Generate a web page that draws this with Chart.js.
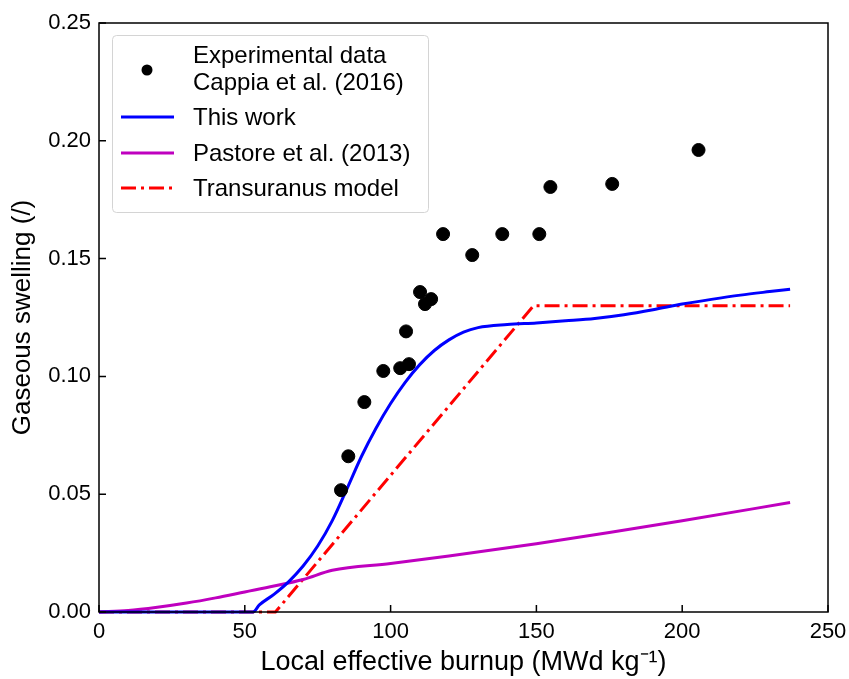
<!DOCTYPE html>
<html>
<head>
<meta charset="utf-8">
<script src="https://cdn.jsdelivr.net/npm/chart.js@4.4.1/dist/chart.umd.min.js"></script>
<style>
  html, body { margin: 0; padding: 0; background: #fff; }
  #wrap { width: 849px; height: 679px; }
</style>
</head>
<body>
<div id="wrap"><canvas id="swellChart"></canvas></div>
<script>
// ---- experimental data (Cappia et al. 2016) ----
const expX = [83.0, 85.5, 91.0, 97.5, 103.3, 105.3, 106.3, 110.1, 111.8, 113.9, 118.0, 128.0, 138.3, 151.0, 154.8, 176.0, 205.6];
const expY = [0.0517, 0.0661, 0.0891, 0.1023, 0.1035, 0.1191, 0.1052, 0.1358, 0.1307, 0.1328, 0.1604, 0.1515, 0.1604, 0.1604, 0.1804, 0.1817, 0.1961];

// ---- This work ----
const workX = [0, 52.8, 55, 60, 65, 70, 75, 80, 85, 90, 95, 100, 105, 110, 115, 120, 125, 130, 140, 150, 160, 170, 180, 190, 200, 210, 220, 230, 237];
const workY = [0, 0, 0.003, 0.0075, 0.0128, 0.0195, 0.028, 0.0388, 0.0522, 0.066, 0.078, 0.0885, 0.0975, 0.105, 0.111, 0.1155, 0.1188, 0.1207, 0.122, 0.1227, 0.1236, 0.1246, 0.1262, 0.1283, 0.1307, 0.1327, 0.1345, 0.136, 0.137];

// ---- Pastore et al. (2013) ----
const pastX = [0, 10, 20, 30, 40, 50, 60, 70, 80, 100, 120, 150, 175, 200, 237];
const pastY = [0, 0.0006, 0.002, 0.0038, 0.006, 0.0085, 0.011, 0.0138, 0.0177, 0.0206, 0.0238, 0.029, 0.0337, 0.0387, 0.0465];

// ---- Transuranus model ----
const tuX = [0, 60.5, 149, 237];
const tuY = [0, 0, 0.13, 0.13];

// axis ticks
const xTicks = [0, 50, 100, 150, 200, 250];
const yTicks = [0, 0.05, 0.10, 0.15, 0.20, 0.25];

const FONT = "'Liberation Sans', Arial, Helvetica, sans-serif";

function pts(xs, ys) {
  return xs.map((x, i) => ({ x: x, y: ys[i] }));
}

// ==============================
// frame + inward ticks (matplotlib look)
// ==============================
const framePlugin = {
  id: "frame",
  afterDatasetsDraw(chart) {
    const { ctx, chartArea: a, scales } = chart;
    ctx.save();
    ctx.strokeStyle = "#000";
    ctx.lineWidth = 1.5;
    ctx.strokeRect(a.left, a.top, a.right - a.left, a.bottom - a.top);
    ctx.beginPath();
    xTicks.forEach((v) => {
      const px = scales.x.getPixelForValue(v);
      ctx.moveTo(px, a.bottom);
      ctx.lineTo(px, a.bottom - 7);
    });
    yTicks.forEach((v) => {
      const py = scales.y.getPixelForValue(v);
      ctx.moveTo(a.left, py);
      ctx.lineTo(a.left + 7, py);
    });
    ctx.stroke();
    ctx.restore();
  },
};

// ==============================
// legend (two-line first entry)
// ==============================
const legendPlugin = {
  id: "boxLegend",
  afterDraw(chart) {
    const { ctx, chartArea: a } = chart;
    const ds = chart.data.datasets;
    const bx = a.left + 13, by = a.top + 12, bw = 316, bh = 177;
    ctx.save();
    ctx.beginPath();
    ctx.roundRect(bx + 0.5, by + 0.5, bw, bh, 4);
    ctx.fillStyle = "rgba(255,255,255,0.8)";
    ctx.fill();
    ctx.strokeStyle = "#d4d4d4";
    ctx.lineWidth = 1;
    ctx.stroke();

    ctx.font = "24px " + FONT;
    ctx.fillStyle = "#000";
    ctx.textBaseline = "middle";
    const tx = bx + 81;

    // experimental data entry
    ctx.beginPath();
    ctx.arc(bx + 35, by + 35, 5.5, 0, Math.PI * 2);
    ctx.fill();
    ctx.fillText("Experimental data", tx, by + 21);
    ctx.fillText("Cappia et al. (2016)", tx, by + 48);

    const rows = [by + 82, by + 118, by + 153];
    [1, 2, 3].forEach((k, i) => {
      const d = ds[k];
      ctx.beginPath();
      ctx.strokeStyle = d.borderColor;
      ctx.lineWidth = d.borderWidth;
      ctx.setLineDash(d.borderDash || []);
      ctx.moveTo(bx + 9, rows[i]);
      ctx.lineTo(bx + 62, rows[i]);
      ctx.stroke();
      ctx.setLineDash([]);
      ctx.fillText(d.label, tx, rows[i] + 1);
    });
    ctx.restore();
  },
};

new Chart(document.getElementById("swellChart"), {
  type: "scatter",
  data: {
    datasets: [
      {
        label: "Experimental data Cappia et al. (2016)",
        data: pts(expX, expY),
        backgroundColor: "#000",
        borderColor: "#000",
        pointRadius: 6.5,
        pointHoverRadius: 6.5,
        showLine: false,
      },
      {
        label: "This work",
        data: pts(workX, workY),
        type: "line",
        borderColor: "#0000ff",
        borderWidth: 3,
        pointRadius: 0,
        cubicInterpolationMode: "monotone",
        fill: false,
        clip: false,
      },
      {
        label: "Pastore et al. (2013)",
        data: pts(pastX, pastY),
        type: "line",
        borderColor: "#bf00bf",
        borderWidth: 3,
        pointRadius: 0,
        cubicInterpolationMode: "monotone",
        fill: false,
        clip: false,
      },
      {
        label: "Transuranus model",
        data: pts(tuX, tuY),
        type: "line",
        borderColor: "#ff0000",
        borderWidth: 3,
        borderDash: [15, 5, 3, 5],
        pointRadius: 0,
        tension: 0,
        fill: false,
        clip: false,
      },
    ],
  },
  options: {
    responsive: true,
    maintainAspectRatio: false,
    animation: false,
    layout: { padding: { top: 23, right: 21, left: 0, bottom: 0 } },
    plugins: {
      legend: { display: false },
      tooltip: { enabled: false },
    },
    scales: {
      x: {
        type: "linear",
        min: 0,
        max: 250,
        afterBuildTicks: (s) => { s.ticks = xTicks.map((v) => ({ value: v })); },
        afterFit: (s) => { s.height = 67; s.paddingLeft = 0; s.paddingRight = 0; },
        grid: { display: false, drawTicks: false },
        border: { display: false },
        ticks: { color: "#000", padding: 7, font: { family: FONT, size: 22 } },
        title: {
          display: true,
          text: "Local effective burnup (MWd kg\u207B\u00B9)",
          color: "#000",
          font: { family: FONT, size: 27 },
          padding: { top: 0, bottom: 0 },
        },
      },
      y: {
        type: "linear",
        min: 0,
        max: 0.25,
        afterBuildTicks: (s) => { s.ticks = yTicks.map((v) => ({ value: v })); },
        afterFit: (s) => { s.width = 99; s.paddingTop = 0; s.paddingBottom = 0; },
        grid: { display: false, drawTicks: false },
        border: { display: false },
        ticks: {
          color: "#000",
          padding: 8,
          font: { family: FONT, size: 22 },
          callback: (v) => v.toFixed(2),
        },
        title: {
          display: true,
          text: "Gaseous swelling (/)",
          color: "#000",
          font: { family: FONT, size: 26 },
          padding: { top: 7, bottom: 0 },
        },
      },
    },
  },
  plugins: [framePlugin, legendPlugin],
});
</script>
</body>
</html>
